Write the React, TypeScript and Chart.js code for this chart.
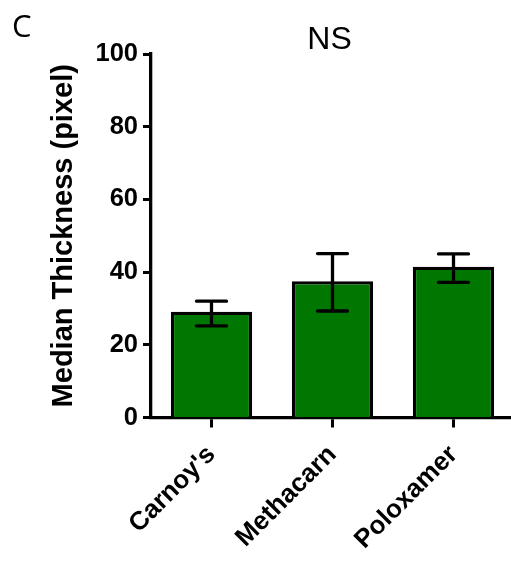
import React, { useEffect, useRef } from "react";
import { Chart, registerables } from "chart.js";

Chart.register(...registerables);

const categories = ["Carnoy's", "Methacarn", "Poloxamer"];
const medians = [29.1, 37.5, 41.5];
const errLow = [25.2, 29.3, 37.2];
const errHigh = [32.0, 45.1, 45.0];
const yTicks = [0, 20, 40, 60, 80, 100];
const panelLabel = "C";
const chartTitle = "NS";
const yTitle = "Median Thickness (pixel)";

const FONT = "'Liberation Sans', Arial, sans-serif";

const errorBarPlugin = {
  id: "errorBars",
  afterDatasetsDraw(chart: any) {
    const ctx = chart.ctx;
    const meta = chart.getDatasetMeta(0);
    const y = chart.scales.y;
    ctx.save();
    ctx.strokeStyle = "#000";
    ctx.lineWidth = 3.3;
    ctx.lineCap = "round";
    meta.data.forEach((bar: any, i: number) => {
      const x = bar.x;
      const yh = y.getPixelForValue(errHigh[i]);
      const yl = y.getPixelForValue(errLow[i]);
      const hw = 15;
      ctx.beginPath();
      ctx.moveTo(x, yh);
      ctx.lineTo(x, yl);
      ctx.moveTo(x - hw, yh);
      ctx.lineTo(x + hw, yh);
      ctx.moveTo(x - hw, yl);
      ctx.lineTo(x + hw, yl);
      ctx.stroke();
    });
    ctx.restore();
  },
};

const labelsPlugin = {
  id: "panelTexts",
  afterDraw(chart: any) {
    const ctx = chart.ctx;
    ctx.save();
    ctx.fillStyle = "#000";
    ctx.textBaseline = "alphabetic";
    ctx.textAlign = "left";
    ctx.font = "31px 'Open Sans', sans-serif";
    ctx.fillText(panelLabel, 12, 37);
    ctx.textAlign = "center";
    ctx.font = "32px " + FONT;
    ctx.fillText(chartTitle, 329.5, 49);
    ctx.restore();
  },
};

export default function App() {
  const ref = useRef<HTMLCanvasElement>(null);

  useEffect(() => {
    if (!ref.current) return;
    Chart.defaults.font.family = FONT;
    const chart = new Chart(ref.current, {
      type: "bar",
      data: {
        labels: categories,
        datasets: [
          {
            data: medians,
            backgroundColor: "#007700",
            borderColor: "#000",
            borderWidth: 3.3,
            barPercentage: 0.672,
            categoryPercentage: 1,
          },
        ],
      },
      options: {
        responsive: false,
        animation: false,
        events: [],
        layout: { padding: { top: 54, left: 0, right: 6, bottom: 0 } },
        plugins: {
          legend: { display: false },
          tooltip: { enabled: false },
          title: { display: false },
        },
        scales: {
          x: {
            type: "category",
            offset: true,
            z: 1,
            grid: {
              display: true,
              drawOnChartArea: false,
              drawTicks: true,
              tickLength: 10,
              tickWidth: 3,
              tickColor: "#000",
              offset: false,
            },
            border: { display: true, color: "#000", width: 3.3 },
            ticks: {
              autoSkip: false,
              minRotation: 45,
              maxRotation: 45,
              color: "#000",
              padding: 12,
              font: { family: FONT, size: 26, weight: "bold" },
            },
            afterFit: (s: any) => {
              s.height = 147.5;
            },
          },
          y: {
            min: 0,
            max: 100,
            z: 1,
            afterBuildTicks: (s: any) => {
              s.ticks = yTicks.map((v) => ({ value: v }));
            },
            grid: {
              display: true,
              drawOnChartArea: false,
              drawTicks: true,
              tickLength: 8,
              tickWidth: 3,
              tickColor: "#000",
            },
            border: { display: true, color: "#000", width: 3.3 },
            ticks: {
              color: "#000",
              padding: 5,
              font: { family: FONT, size: 25.5, weight: "bold" },
            },
            title: {
              display: true,
              text: yTitle,
              color: "#000",
              font: { family: FONT, size: 29, weight: "bold" },
              padding: { top: 47, bottom: 0 },
            },
            afterFit: (s: any) => {
              s.width = 151;
            },
          },
        },
      },
      plugins: [errorBarPlugin, labelsPlugin],
    } as any);
    return () => chart.destroy();
  }, []);

  return (
    <div
      style={{
        position: "absolute",
        left: 0,
        top: 0,
        width: 511,
        height: 565,
        overflow: "hidden",
        background: "#fff",
      }}
    >
      <canvas ref={ref} width={520} height={565} style={{ width: 520, height: 565, display: "block" }} />
    </div>
  );
}
